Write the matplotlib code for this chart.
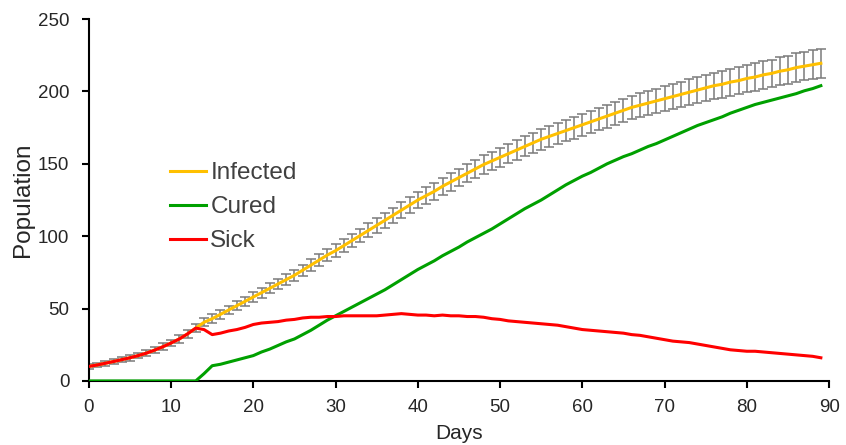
import matplotlib.pyplot as plt
import numpy as np

plt.rcParams['font.family'] = ['Liberation Sans', 'DejaVu Sans']

days = np.arange(0, 90)

infected = [10.0, 11.0, 12.2, 13.4, 14.7, 16.0, 17.5, 19.2, 21.3, 23.6,
            26.2, 29.0, 32.5, 36.5, 40.5, 43.0, 46.0, 49.0, 52.0, 55.0,
            58.0, 61.0, 64.0, 67.0, 70.0, 73.0, 76.5, 80.0, 83.5, 87.0,
            90.0, 93.5, 97.0, 100.5, 104.0, 107.5, 111.0, 114.5, 118.0, 121.5,
            125.0, 128.0, 131.0, 134.5, 137.5, 140.5, 143.5, 146.5, 149.5, 152.0,
            154.5, 157.0, 159.5, 162.0, 164.5, 167.0, 169.0, 171.0, 173.0, 175.0,
            177.0, 179.0, 181.0, 183.0, 185.0, 187.0, 189.0, 190.5, 192.0, 193.5,
            195.0, 196.5, 198.0, 199.5, 201.0, 202.5, 204.0, 205.0, 206.5, 207.5,
            209.0, 210.0, 211.5, 212.5, 214.0, 215.0, 216.5, 217.5, 218.5, 219.5]

infected_err = [1.5, 1.6, 1.7, 1.8, 1.9, 2.0, 2.0, 2.1, 2.2, 2.3,
                2.4, 2.5, 2.6, 2.7, 2.8, 2.9, 3.0, 3.0, 3.1, 3.2,
                3.3, 3.4, 3.5, 3.6, 3.7, 3.8, 3.9, 4.0, 4.1, 4.3,
                4.4, 4.5, 4.6, 4.7, 4.8, 5.0, 5.1, 5.2, 5.3, 5.4,
                5.5, 5.7, 5.8, 5.9, 6.0, 6.1, 6.2, 6.3, 6.4, 6.5,
                6.6, 6.7, 6.8, 6.9, 7.0, 7.1, 7.2, 7.3, 7.4, 7.5,
                7.6, 7.7, 7.8, 7.9, 8.0, 8.1, 8.2, 8.3, 8.4, 8.5,
                8.6, 8.7, 8.8, 8.9, 9.0, 9.1, 9.1, 9.2, 9.3, 9.4,
                9.4, 9.5, 9.5, 9.6, 9.7, 9.7, 9.8, 9.8, 9.9, 10.0]

cured = [0, 0, 0, 0, 0, 0, 0, 0, 0, 0,
         0, 0, 0, 0, 5.0, 10.5, 11.5, 13.0, 14.5, 16.0,
         17.5, 20.0, 22.0, 24.5, 27.0, 29.0, 32.0, 35.0, 38.5, 42.0,
         45.0, 48.0, 51.0, 54.0, 57.0, 60.0, 63.0, 66.5, 70.0, 73.5,
         77.0, 80.0, 83.0, 86.5, 89.5, 92.5, 96.0, 99.0, 102.0, 105.0,
         108.5, 112.0, 115.5, 119.0, 122.0, 125.0, 128.5, 132.0, 135.5, 138.5,
         141.5, 144.0, 147.0, 150.0, 152.5, 155.0, 157.0, 159.5, 162.0, 164.0,
         166.5, 169.0, 171.5, 174.0, 176.5, 178.5, 180.5, 182.5, 185.0, 187.0,
         189.0, 191.0, 192.5, 194.0, 195.5, 197.0, 198.5, 200.5, 202.0, 204.0]

sick = [10.0, 11.0, 12.2, 13.4, 14.7, 16.0, 17.5, 19.2, 21.3, 23.6,
        26.2, 29.0, 32.5, 36.5, 35.5, 32.0, 33.0, 34.5, 35.5, 37.0,
        39.0, 40.0, 40.5, 41.0, 42.0, 42.5, 43.5, 44.0, 44.0, 44.5,
        44.5, 45.0, 45.0, 45.0, 45.0, 45.0, 45.5, 46.0, 46.5, 46.0,
        45.5, 45.5, 45.0, 45.5, 45.0, 45.0, 44.5, 44.5, 44.0, 43.0,
        42.5, 41.5, 41.0, 40.5, 40.0, 39.5, 39.0, 38.5, 37.5, 36.5,
        35.5, 35.0, 34.5, 34.0, 33.5, 33.0, 32.0, 31.5, 30.5, 29.5,
        28.5, 27.5, 27.0, 26.5, 25.5, 24.5, 23.5, 22.5, 21.5, 21.0,
        20.5, 20.5, 20.0, 19.5, 19.0, 18.5, 18.0, 17.5, 17.0, 16.0]

fig = plt.figure(figsize=(8.46, 4.45), dpi=100)
ax = fig.add_axes([0.105, 0.144, 0.875, 0.813])

# error bars first, line on top
ax.errorbar(days, infected, yerr=infected_err, fmt='none', ecolor='#7a7a7a',
            elinewidth=1.1, capsize=3.8, capthick=1.1, zorder=1)
ax.plot(days, infected, color='#FFC000', lw=2.2, label='Infected', zorder=2)
ax.plot(days, cured, color='#00A000', lw=2.2, label='Cured', zorder=3)
ax.plot(days, sick, color='#FF0000', lw=2.2, label='Sick', zorder=4)

ax.set_xlim(0, 90)
ax.set_ylim(0, 250)
ax.set_xticks(range(0, 91, 10))
ax.set_yticks(range(0, 251, 50))

for s in ['top', 'right']:
    ax.spines[s].set_visible(False)
for s in ['left', 'bottom']:
    ax.spines[s].set_linewidth(1.5)
    ax.spines[s].set_color('black')
ax.tick_params(axis='both', direction='out', length=5, width=1.5,
               labelsize=13.5, labelcolor='#262626')
ax.tick_params(axis='y', pad=9)
ax.tick_params(axis='x', pad=8)

ax.set_xlabel('Days', fontsize=15, color='#262626', labelpad=6)
ax.set_ylabel('Population', fontsize=17.5, color='#262626', labelpad=3)

leg = ax.legend(loc='center left', bbox_to_anchor=(0.11, 0.48), frameon=False,
                handlelength=1.45, handletextpad=0.2,
                labelspacing=0.5, borderpad=0, borderaxespad=0,
                prop={'size': 17.5})
for t in leg.get_texts():
    t.set_color('#404040')

plt.savefig('out.png', dpi=100)
